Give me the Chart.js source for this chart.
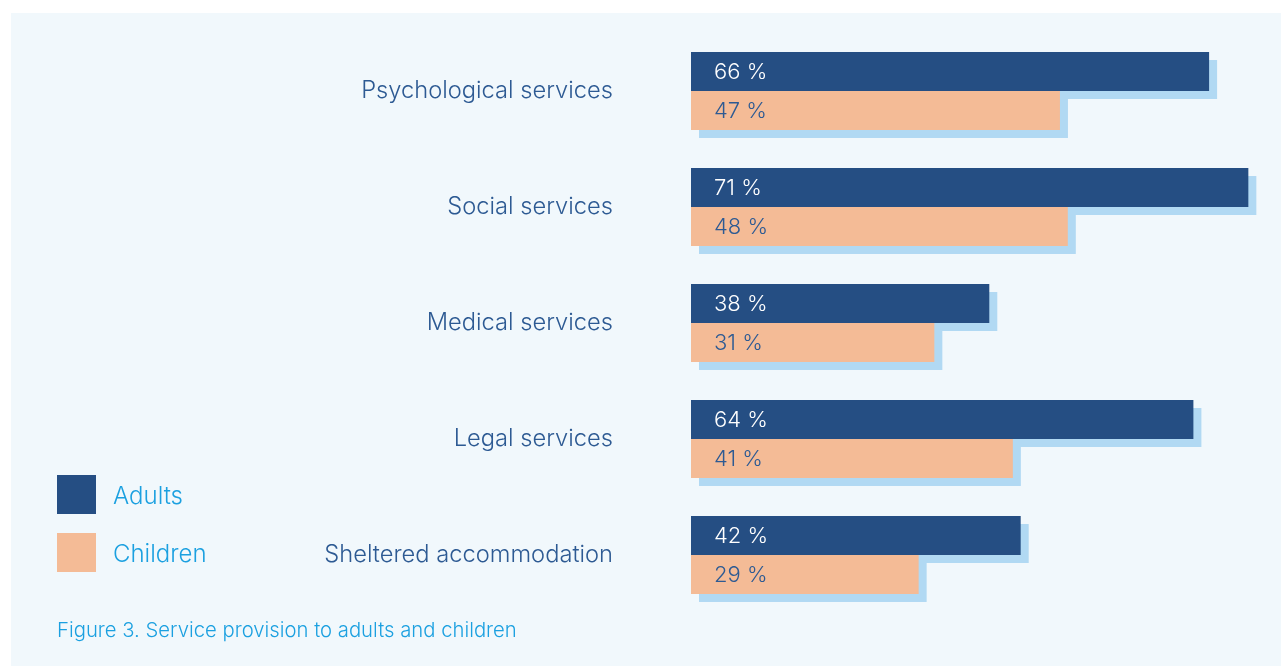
<!DOCTYPE html>
<html>
<head>
<meta charset="utf-8">
<script src="https://cdn.jsdelivr.net/npm/chart.js@4/dist/chart.umd.min.js"></script>
<style>
  html, body { margin: 0; padding: 0; background: #ffffff; }
  body { width: 1281px; height: 666px; position: relative; overflow: hidden; font-family: Inter, "Liberation Sans", Arial, sans-serif; }
  #panel { position: absolute; left: 11px; top: 13px; width: 1270px; height: 653px; background: #f1f8fc; }
  #wrap { position: absolute; left: 0; top: 0; width: 1281px; height: 666px; }
  .leg { position: absolute; left: 57px; width: 39px; height: 39px; }
  .legtxt { position: absolute; left: 113px; font-size: 24px; color: #1ba0e0; line-height: 39px; font-weight: 300; }
  #caption { position: absolute; left: 57px; top: 618px; font-size: 20.3px; line-height: 24px; color: #1ba0e0; font-weight: 300; }
</style>
</head>
<body>
<div id="panel"></div>
<div id="wrap"><canvas id="c" width="1281" height="666"></canvas></div>
<div class="leg" style="top:475px;background:#254e83"></div>
<div class="legtxt" style="top:476px">Adults</div>
<div class="leg" style="top:533px;background:#f4bb96"></div>
<div class="legtxt" style="top:534px">Children</div>
<div id="caption">Figure 3. Service provision to adults and children</div>
<script>
const categories = ["Psychological services", "Social services", "Medical services", "Legal services", "Sheltered accommodation"];
const adults = [66, 71, 38, 64, 42];
const children = [47, 48, 31, 41, 29];
const seriesNames = ["Adults", "Children"];

const FONT = 'Inter, "Liberation Sans", Arial, sans-serif';

const shadowPlugin = {
  id: 'shadow',
  beforeDatasetsDraw(chart) {
    const ctx = chart.ctx;
    ctx.save();
    ctx.fillStyle = '#b1d9f3';
    chart.data.datasets.forEach((ds, di) => {
      const meta = chart.getDatasetMeta(di);
      meta.data.forEach(bar => {
        const p = bar.getProps(['x', 'y', 'base', 'height'], true);
        ctx.fillRect(p.base + 8, p.y - p.height / 2 + 8, p.x - p.base, p.height);
      });
    });
    ctx.restore();
  },
  afterDatasetsDraw(chart) {
    const ctx = chart.ctx;
    ctx.save();
    ctx.font = '300 22px ' + FONT;
    ctx.textBaseline = 'middle';
    ctx.textAlign = 'left';
    chart.data.datasets.forEach((ds, di) => {
      const meta = chart.getDatasetMeta(di);
      ctx.fillStyle = di === 0 ? '#ffffff' : '#2d5a93';
      meta.data.forEach((bar, i) => {
        const p = bar.getProps(['x', 'y', 'base'], true);
        ctx.fillText(ds.data[i] + ' %', p.base + 23, p.y + 1);
      });
    });
    ctx.restore();
  }
};

new Chart(document.getElementById('c'), {
  type: 'bar',
  data: {
    labels: categories,
    datasets: [
      { label: seriesNames[0], data: adults, backgroundColor: '#254e83' },
      { label: seriesNames[1], data: children, backgroundColor: '#f4bb96' }
    ]
  },
  options: {
    indexAxis: 'y',
    responsive: false,
    animation: false,
    devicePixelRatio: 1,
    layout: { padding: { top: 33, bottom: 53, right: 0, left: 0 } },
    datasets: { bar: { categoryPercentage: 0.672, barPercentage: 1.0 } },
    plugins: { legend: { display: false }, tooltip: { enabled: false } },
    scales: {
      x: { min: 0, max: 75.16, display: false, grid: { display: false } },
      y: {
        afterFit(scale) { scale.width = 691; scale.paddingTop = 0; scale.paddingBottom = 0; },
        grid: { display: false, drawTicks: false },
        border: { display: false },
        ticks: {
          padding: 78,
          color: '#2d5a93',
          font: { family: FONT, size: 23.7, weight: '300' }
        }
      }
    }
  },
  plugins: [shadowPlugin]
});
</script>
</body>
</html>
